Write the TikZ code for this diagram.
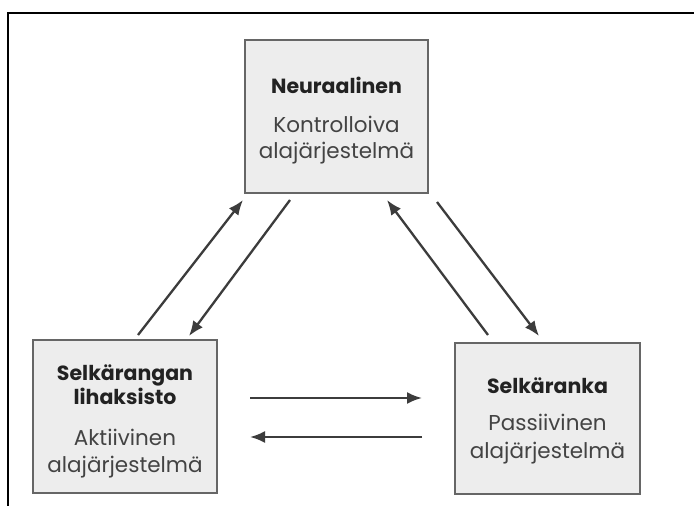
\documentclass[tikz,border=0pt]{standalone}
\usepackage{fontspec}
\setmainfont{Poppins}
\usetikzlibrary{arrows.meta}
\definecolor{boxfill}{HTML}{EDEDED}
\definecolor{boxline}{HTML}{666666}
\definecolor{arrowcol}{HTML}{3C3C3C}
\definecolor{txt}{HTML}{222222}
\tikzset{
  block/.style={draw=boxline, line width=2.6pt, fill=boxfill, inner sep=0pt},
  ttl/.style={anchor=base, font=\fontsize{20.5}{24}\selectfont\bfseries, text=txt, inner sep=0pt},
  sub/.style={anchor=base, font=\fontsize{21.5}{25}\selectfont, text=txt!85, inner sep=0pt},
  conn/.style={draw=arrowcol, line width=2.3pt, -{Latex[length=15pt,width=12pt]}},
}
\begin{document}
\begin{tikzpicture}[x=1pt,y=-1pt]
\useasboundingbox (0,0) rectangle (694,506);
\fill[white] (0,0) rectangle (694,506);
% frame (top and left)
\coordinate (fa) at (694,13);
\coordinate (fb) at (8,13);
\coordinate (fc) at (8,506);
\draw[line width=2pt, black] (fa) -- (fb) -- (fc);
% boxes
\node[block, minimum width=183pt, minimum height=153pt] (neuro) at (336.5,116.5) {};
\node[block, minimum width=184pt, minimum height=153pt] (lihas) at (125,416.5) {};
\node[block, minimum width=185pt, minimum height=151pt] (ranka) at (547.5,418.5) {};
% texts
\node[ttl] (t1) at (336.5,93) {Neuraalinen};
\node[sub] (t2) at (336.5,132) {Kontrolloiva};
\node[sub] (t3) at (336.5,158) {alajärjestelmä};
\node[ttl] (l1) at (125,380) {Selkärangan};
\node[ttl] (l2) at (125,404) {lihaksisto};
\node[sub] (l3) at (125,445) {Aktiivinen};
\node[sub] (l4) at (125,472) {alajärjestelmä};
\node[ttl] (r1) at (547.5,393) {Selkäranka};
\node[sub] (r2) at (547.5,430) {Passiivinen};
\node[sub] (r3) at (547.5,458) {alajärjestelmä};
% arrow end points
\coordinate (a1s) at (138,335); \coordinate (a1e) at (243,200);
\coordinate (a2s) at (290,200); \coordinate (a2e) at (189,336);
\coordinate (a3s) at (488,335); \coordinate (a3e) at (387,200);
\coordinate (a4s) at (437,202); \coordinate (a4e) at (539,336);
\coordinate (h1s) at (250,398); \coordinate (h1e) at (422,398);
\coordinate (h2s) at (422,437); \coordinate (h2e) at (250,437);
\draw[conn] (a1s) -- (a1e);
\draw[conn] (a2s) -- (a2e);
\draw[conn] (a3s) -- (a3e);
\draw[conn] (a4s) -- (a4e);
\draw[conn] (h1s) -- (h1e);
\draw[conn] (h2s) -- (h2e);
\end{tikzpicture}
\end{document}
